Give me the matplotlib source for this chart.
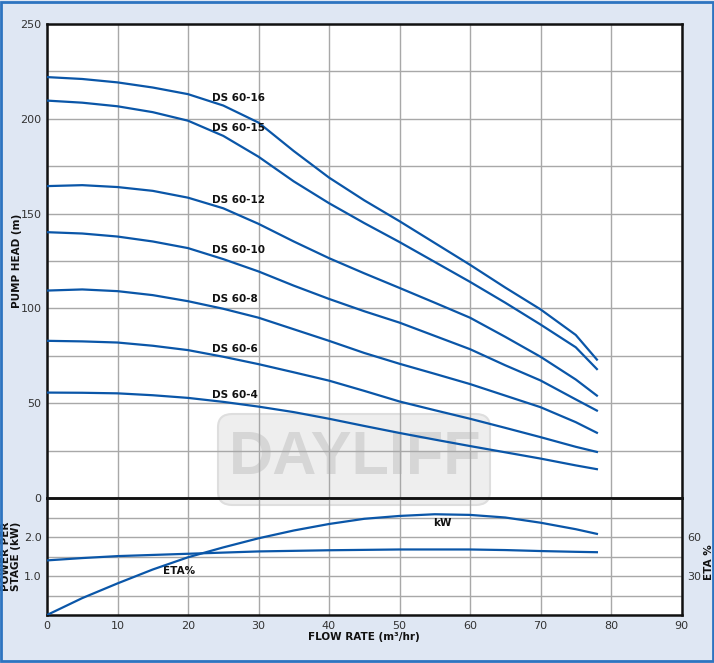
import matplotlib
matplotlib.use("Agg")
import matplotlib.pyplot as plt
from matplotlib.patches import Rectangle, FancyBboxPatch

# ---------------- data ----------------
flow = [0, 5, 10, 15, 20, 25, 30, 35, 40, 45, 50, 55, 60, 65, 70, 75, 78]

ds60_16 = [222, 221, 219.2, 216.5, 213, 207, 198, 183, 169, 157, 146, 134.5, 123, 111, 99.5, 86, 73]
ds60_15 = [209.6, 208.5, 206.6, 203.5, 199, 191, 180, 167, 155.5, 145, 135, 124.5, 114, 103, 91.5, 79.5, 68]
ds60_12 = [164.5, 165, 164, 162, 158.4, 152.8, 144.6, 135.3, 126.5, 118.5, 110.8, 103, 95.1, 85, 74.5, 62.5, 54]
ds60_10 = [140.2, 139.5, 137.9, 135.3, 131.8, 126, 119.5, 112, 105, 98.5, 92.5, 85.5, 78.5, 70, 62, 52, 46.1]
ds60_8 = [109.4, 110, 109.1, 107, 103.8, 99.8, 95.1, 89, 82.9, 76.5, 70.8, 65.5, 60.1, 54, 47.9, 40, 34.4]
ds60_6 = [82.9, 82.6, 82, 80.3, 78, 74.5, 70.6, 66.3, 61.9, 56.5, 50.9, 46.3, 41.8, 37, 32.1, 27, 24.3]
ds60_4 = [55.6, 55.5, 55.2, 54.2, 52.8, 50.7, 48.2, 45.3, 41.8, 38, 34.3, 30.8, 27.4, 24.1, 20.8, 17.2, 15.2]

models = ["DS 60-16", "DS 60-15", "DS 60-12", "DS 60-10", "DS 60-8", "DS 60-6", "DS 60-4"]
heads = [ds60_16, ds60_15, ds60_12, ds60_10, ds60_8, ds60_6, ds60_4]
label_x = 23.4
label_y = [211, 195, 157, 130.6, 105.2, 78.5, 54.5]

eta = [0, 13, 24.3, 35, 44.4, 52, 59, 65, 70, 74, 76.2, 77.5, 77, 75, 71, 66, 62.4]
kw = [1.40, 1.46, 1.51, 1.54, 1.57, 1.60, 1.63, 1.645, 1.66, 1.67, 1.68, 1.68, 1.68, 1.665, 1.64, 1.62, 1.61]

x_ticks = [0, 10, 20, 30, 40, 50, 60, 70, 80, 90]
head_ticks = [0, 50, 100, 150, 200, 250]
kw_ticks = [1.0, 2.0]
kw_tick_labels = ["1.0", "2.0"]
eta_ticks = [30, 60]

# ---------------- style ----------------
BLUE = "#0a56a8"
BG = "#dfe7f3"
GRID = "#a8a8a8"
TXT = "#333333"

W, H = 714, 663
fig = plt.figure(figsize=(W / 100, H / 100), dpi=100)
fig.patch.set_facecolor(BG)

L, R = 47, 681.5
T, M, B = 24, 498, 615
fx = lambda p: p / W
fy = lambda p: 1 - p / H

# white plot background + watermark (behind the axes)
fig.patches.append(Rectangle((fx(L), fy(B)), fx(R - L), (B - T) / H,
                             transform=fig.transFigure, facecolor="white",
                             edgecolor="none", zorder=-3))
wm = FancyBboxPatch((fx(218), fy(505)), fx(272), (505 - 414) / H,
                    boxstyle="round,pad=0,rounding_size=0.02",
                    transform=fig.transFigure, facecolor="#eeeeee",
                    edgecolor="#dedede", linewidth=1.5, zorder=-2)
fig.patches.append(wm)
fig.text(fx(355), fy(459), "DAYLIFF", ha="center", va="center",
         fontsize=44, fontweight="bold", color="#d6d6d6",
         family=["Liberation Sans", "DejaVu Sans"], zorder=-1)

# outer border
fig.patches.append(Rectangle((0.002, 0.003), 0.996, 0.994, transform=fig.transFigure,
                             facecolor="none", edgecolor="#2d74c0", linewidth=2, zorder=5))

ax = fig.add_axes([fx(L), fy(M), fx(R - L), (M - T) / H])
ax2 = fig.add_axes([fx(L), fy(B), fx(R - L), (B - M) / H], sharex=ax)
for a in (ax, ax2):
    a.set_facecolor("none")
    for s in a.spines.values():
        s.set_linewidth(1.8)
        s.set_color("#111111")
    a.tick_params(length=0, labelsize=8, colors=TXT, pad=4)
    a.set_axisbelow(True)

ax.set_xlim(0, 90)
ax.set_ylim(0, 250)
ax.set_xticks(x_ticks)
ax.set_yticks(head_ticks)
ax.set_yticks([v + 25 for v in head_ticks[:-1]], minor=True)
ax.tick_params(which="minor", length=0)
ax.grid(True, which="both", color=GRID, linewidth=1.0)
ax.tick_params(labelbottom=False)

for name, h, ly in zip(models, heads, label_y):
    ax.plot(flow, h, color=BLUE, linewidth=1.6, zorder=3, solid_joinstyle="round")
    ax.text(label_x, ly, name, fontsize=7.5, fontweight="bold", color="#111111",
            ha="left", va="center", zorder=4)

ax.set_ylabel("PUMP HEAD (m)", fontsize=7.5, fontweight="bold", color="#111111")
ax.yaxis.set_label_coords((22 - L) / (R - L), 0.5)

ax2.set_ylim(0, 3)
ax2.set_yticks(kw_ticks)
ax2.set_yticklabels(kw_tick_labels)
ax2.set_yticks([0.5, 1.5, 2.5], minor=True)
ax2.tick_params(which="minor", length=0)
ax2.grid(True, which="both", color=GRID, linewidth=1.0)
ax2.set_xticks(x_ticks)
ax2.plot(flow, kw, color=BLUE, linewidth=1.6, zorder=3)
ax2.set_xlabel("FLOW RATE (m³/hr)", fontsize=7.5, fontweight="bold", color="#111111", labelpad=1)
ax2.set_ylabel("POWER PER\nSTAGE (kW)", fontsize=7.5, fontweight="bold", color="#111111",
               linespacing=0.95)
ax2.yaxis.set_label_coords((21 - L) / (R - L), 0.5)

ax3 = ax2.twinx()
ax3.set_ylim(0, 90)
ax3.set_yticks(eta_ticks)
ax3.tick_params(length=0, labelsize=8, colors=TXT, pad=4)
for s in ax3.spines.values():
    s.set_visible(False)
ax3.plot(flow, eta, color=BLUE, linewidth=1.6, zorder=3)
ax3.set_ylabel("ETA %", fontsize=7.5, fontweight="bold", color="#111111", rotation=90)
ax3.yaxis.set_label_coords((704 - L) / (R - L), 0.45)

ax2.text(18.7, 1.14, "ETA%", fontsize=7.5, fontweight="bold", color="#111111",
         ha="center", va="center")
ax2.text(56.1, 2.36, "kW", fontsize=7.5, fontweight="bold", color="#111111",
         ha="center", va="center")

fig.savefig("out.png", dpi=100, facecolor=fig.get_facecolor())
